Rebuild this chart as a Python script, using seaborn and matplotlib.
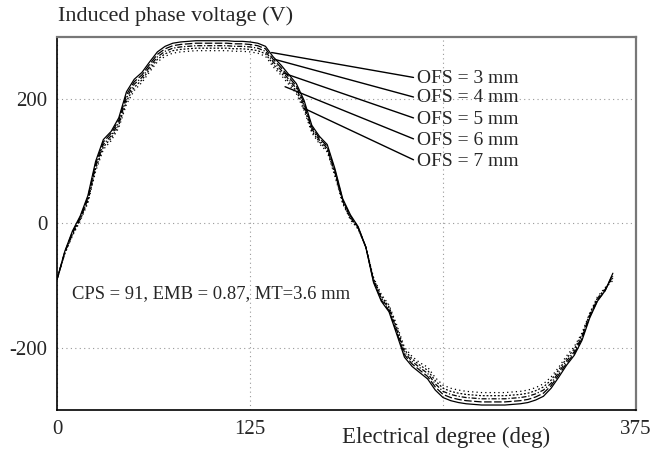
import numpy as np
import pandas as pd
import seaborn as sns
from matplotlib import pyplot as plt

# electrical angle samples (deg)
degree = list(range(0, 361, 5))

ofs3 = [-90, -45, -12, 12, 45, 100, 135, 148, 170, 212, 232, 243, 260, 276, 285, 290, 292, 293, 294, 294,
        294, 294, 294, 293, 293, 292, 290, 285, 268, 255, 240, 225, 198, 158, 140, 127, 88, 40, 14, -5,
        -38, -95, -125, -142, -178, -215, -230, -240, -250, -268, -280, -285, -288, -290, -291, -292, -292, -292,
        -292, -291, -290, -288, -284, -278, -265, -247, -228, -212, -188, -152, -125, -108, -80]
ofs4 = [-90, -46, -14, 10, 42, 96, 131, 145, 166, 207, 228, 239, 256, 272, 281, 286, 288, 289, 290, 290,
        290, 290, 290, 289, 289, 288, 286, 281, 264, 251, 236, 221, 194, 155, 137, 124, 85, 38, 12, -6,
        -38, -93, -123, -140, -175, -211, -226, -236, -246, -263, -275, -280, -283, -285, -286, -287, -287, -287,
        -287, -286, -285, -283, -279, -273, -261, -243, -225, -209, -185, -150, -124, -108, -82]
ofs5 = [-90, -47, -16, 8, 39, 92, 127, 141, 162, 202, 224, 235, 252, 268, 277, 282, 284, 285, 286, 286,
        286, 286, 286, 285, 285, 284, 282, 277, 260, 247, 232, 217, 190, 152, 134, 121, 82, 36, 10, -7,
        -38, -91, -120, -137, -171, -207, -222, -232, -241, -258, -270, -275, -278, -280, -281, -282, -282, -282,
        -282, -281, -280, -278, -274, -268, -257, -239, -221, -206, -182, -148, -122, -106, -85]
ofs6 = [-90, -48, -18, 6, 36, 88, 123, 137, 158, 197, 219, 231, 248, 264, 273, 278, 280, 281, 282, 282,
        282, 282, 282, 281, 281, 280, 278, 273, 256, 243, 228, 213, 186, 149, 131, 118, 79, 34, 8, -8,
        -38, -89, -117, -134, -167, -203, -218, -228, -236, -253, -265, -270, -273, -275, -276, -277, -277, -277,
        -277, -276, -275, -273, -269, -263, -252, -235, -217, -202, -179, -146, -120, -105, -88]
ofs7 = [-90, -49, -20, 4, 33, 84, 119, 133, 154, 192, 214, 227, 244, 260, 269, 274, 276, 277, 278, 278,
        278, 278, 278, 277, 277, 276, 274, 269, 252, 239, 224, 209, 182, 146, 128, 115, 76, 32, 6, -9,
        -38, -87, -114, -131, -163, -199, -214, -224, -231, -248, -260, -265, -268, -270, -271, -272, -272, -272,
        -272, -271, -270, -268, -264, -258, -247, -231, -213, -198, -176, -144, -118, -103, -92]

labels = ['OFS = 3 mm', 'OFS = 4 mm', 'OFS = 5 mm', 'OFS = 6 mm', 'OFS = 7 mm']
series = [ofs3, ofs4, ofs5, ofs6, ofs7]
styles = ['-', (0, (6, 2)), (0, (4, 1.5, 1, 1.5)), (0, (1.5, 1.5)), (0, (1, 2.5))]

# where the leader lines touch each curve, and where the labels sit
pointers = [(139, 275), (141, 264), (146.6, 242), (147.7, 220), (159.3, 186)]
label_pos = [(233, 234), (233, 202), (233, 168), (233, 134), (233, 100)]

sns.set_style("white")
plt.rcParams['font.family'] = ['Liberation Serif', 'DejaVu Serif']

fig = plt.figure(figsize=(6.51, 4.5), dpi=100)
ax = fig.add_axes([0.0876, 0.0889, 0.8894, 0.8289])

for vals, ls in zip(series, styles):
    assert len(vals) == len(degree)
    df = pd.DataFrame({'deg': degree, 'v': vals})
    sns.lineplot(data=df, x='deg', y='v', ax=ax, color='black', lw=0.9, linestyle=ls)

for lab, pt, pos in zip(labels, pointers, label_pos):
    ax.annotate(lab, xy=pt, xytext=pos, fontsize=14, va='center', ha='left',
                arrowprops=dict(arrowstyle='-', lw=1, color='black',
                                shrinkA=0, shrinkB=0, relpos=(0, 0.5)))

ax.text(9.7, -112, 'CPS = 91, EMB = 0.87, MT=3.6 mm', fontsize=13.4, va='center', ha='left')

ax.set_xlim(0, 375)
ax.set_ylim(-300, 300)
ax.set_xticks([0, 125, 250, 375])
ax.set_xticklabels(['0', '125', '', '375'])
ax.set_yticks([-200, 0, 200])
ax.set_yticklabels(['-200', '0', '200'])
ax.tick_params(length=0, labelsize=15, pad=7)
ax.grid(True, linestyle=(0, (1, 3)), color='#999999', lw=0.8)

for side in ['left', 'bottom']:
    ax.spines[side].set_color('black')
    ax.spines[side].set_linewidth(1.2)
for side in ['top', 'right']:
    ax.spines[side].set_color('#777777')
    ax.spines[side].set_linewidth(1.6)

ax.set_xlabel('Electrical degree (deg)', fontsize=16.5)
ax.xaxis.set_label_coords(0.492, -0.045)
ax.xaxis.label.set_va('top')
ax.xaxis.label.set_ha('left')
ax.set_ylabel('')
ax.text(0.002, 1.055, 'Induced phase voltage (V)', transform=ax.transAxes,
        fontsize=16, va='center', ha='left')

fig.savefig('out.png', dpi=100)
